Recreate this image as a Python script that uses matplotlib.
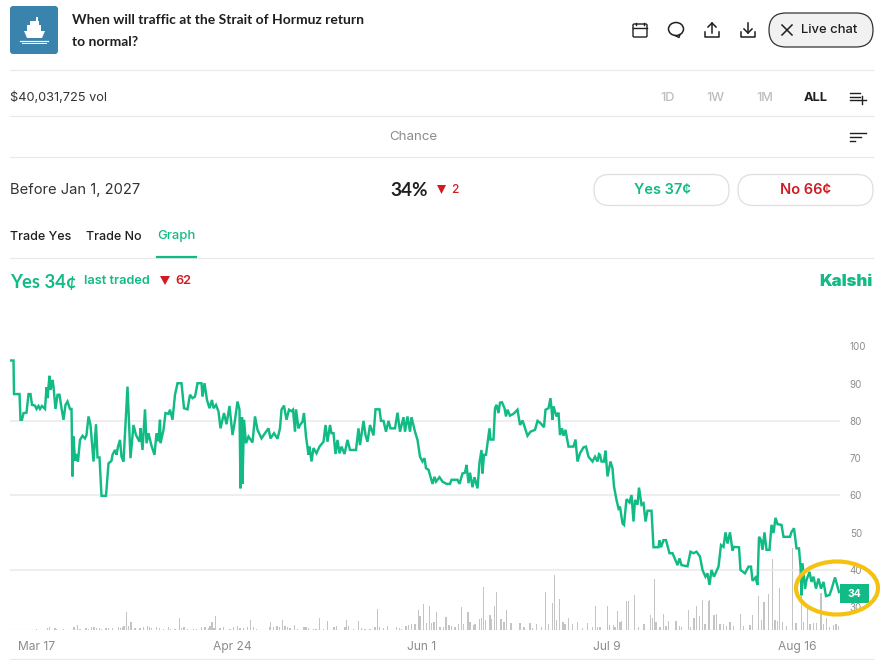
import matplotlib
matplotlib.use("Agg")
import matplotlib.pyplot as plt
from matplotlib.patches import FancyBboxPatch, Ellipse, Rectangle, Polygon

# days counted from Mar 17
price_days = [-5.4,-4.7,-4.6,-3.5,-3.3,-3.0,-2.7,-2.1,-1.7,-1.3,-1.0,-0.4,-0.1,0.3,0.6,1.0,1.6,1.9,2.1,2.5,2.7,3.1,3.3,3.7,4.1,4.5,4.9,5.3,5.7,6.1,6.6,6.9,7.1,7.3,7.6,7.9,8.2,8.6,9.1,9.6,9.9,10.3,10.7,11.3,11.8,12.1,12.5,12.9,13.8,14.3,14.9,15.1,15.6,15.9,16.2,16.6,16.9,17.3,18.1,18.7,19.3,19.8,20.5,20.7,21.1,21.6,21.9,22.3,22.9,23.5,23.9,24.3,24.6,24.7,25.3,25.7,26.3,26.6,27.1,27.6,28.1,28.9,29.4,30.1,30.6,31.1,31.6,32.1,32.9,33.1,33.5,34.0,34.5,35.0,35.3,35.8,36.3,36.7,37.4,37.9,38.5,39.1,39.5,40.1,40.5,40.7,41.0,41.1,41.4,41.8,42.3,43.1,43.6,44.1,44.9,45.7,46.3,46.7,47.4,48.1,48.6,48.9,49.4,49.9,50.4,50.9,51.2,51.6,51.8,52.3,
    52.6,53.1,53.4,53.8,54.3,54.5,54.9,55.3,55.9,56.5,57.3,57.7,58.1,58.6,58.9,59.3,59.7,60.1,60.5,60.9,61.5,62.1,62.6,63.8,64.3,64.6,65.3,65.7,66.1,66.6,67.3,67.7,68.5,68.8,69.3,69.8,70.3,70.7,71.6,72.1,72.6,73.3,73.6,74.1,74.6,74.9,75.6,76.1,76.6,77.1,77.5,77.8,78.3,79.1,79.5,79.8,80.5,81.1,81.9,82.6,82.9,84.1,84.5,85.1,85.6,85.9,86.3,86.6,87.1,87.5,88.1,88.5,88.9,89.1,89.4,89.8,90.5,90.7,91.3,91.6,91.9,92.3,92.6,93.0,93.5,93.8,94.1,94.6,95.3,96.1,96.6,97.1,97.4,98.1,98.7,99.6,100.1,100.7,101.4,101.7,102.3,102.7,103.1,103.3,103.9,104.3,104.6,105.0,105.3,105.7,106.3,107.3,107.7,108.1,108.6,109.3,109.8,110.3,111.1,111.6,112.1,112.4,
    112.6,112.9,113.4,113.7,114.1,114.7,115.1,115.4,115.9,116.3,116.6,117.1,117.4,117.9,118.5,118.9,119.3,119.6,120.1,120.4,120.9,121.3,121.7,122.1,122.9,123.3,124.3,124.5,124.8,125.3,125.8,126.5,127.1,128.1,128.5,128.9,130.1,130.7,131.3,131.9,132.6,133.1,133.7,134.1,134.5,134.9,135.4,136.3,136.8,137.3,137.7,138.1,138.6,139.1,139.4,140.4,140.7,141.6,142.3,142.8,143.1,143.7,144.1,144.4,144.8,145.1,145.5,145.9,146.5,146.9,147.3,147.7,148.1,148.9,149.3,150.6,150.9,151.4,151.9,152.4,152.7,152.9,153.1,153.6,153.9,154.5,154.9,155.3,155.8,156.3,156.8,157.3,157.8,158.5,158.9,159.6,160.4]

price_values = [96.2,96.2,87.2,87.2,80.3,80.3,82.1,82.2,87.2,87.2,84.3,84.1,83.2,84.0,83.2,84.0,83.2,89.0,86.1,92.1,88.3,91.0,89.2,83.2,87.0,87.0,83.4,80.3,84.3,85.2,83.2,83.2,65.1,75.8,69.3,71.1,69.1,74.9,76.0,75.3,76.2,81.2,78.9,69.1,79.1,70.2,70.2,59.9,59.9,68.6,69.3,70.9,72.2,70.9,73.1,74.9,70.4,69.1,89.2,70.0,78.9,76.2,74.4,78.0,72.2,83.1,74.0,76.7,73.3,70.9,76.7,74.5,80.3,74.0,77.6,82.1,81.9,83.0,80.3,87.0,90.1,90.1,83.4,83.1,87.0,86.1,86.5,90.1,90.1,86.5,90.1,85.6,83.4,85.6,83.4,84.3,82.5,78.0,82.1,79.1,84.0,76.2,79.3,85.2,83.0,61.9,81.0,63.1,80.3,74.0,75.8,74.2,81.2,77.6,75.3,76.9,78.0,75.3,76.7,75.2,78.0,83.0,84.1,80.3,83.0,82.6,83.0,77.1,83.1,78.0,
    78.9,79.8,82.1,75.8,70.9,73.1,69.1,72.7,71.3,73.1,74.4,78.9,74.4,78.9,76.7,76.7,71.1,74.9,71.3,73.1,71.1,74.9,72.2,72.2,78.0,73.5,80.0,76.2,74.4,78.9,76.1,83.1,83.1,80.0,80.0,77.1,80.0,78.0,78.0,82.2,77.1,81.0,77.1,81.2,77.1,81.0,77.1,74.9,70.4,69.1,70.0,67.3,66.9,63.1,65.0,63.7,64.9,63.7,63.1,63.1,64.2,64.2,63.1,65.9,66.1,68.2,63.3,66.1,62.2,64.9,61.9,68.8,72.2,65.9,70.9,70.9,78.0,75.0,75.0,83.4,84.3,82.1,84.9,85.0,83.4,81.2,83.0,81.4,81.9,83.0,78.9,80.1,78.9,76.0,77.1,77.6,80.0,79.4,78.3,83.0,83.4,86.1,80.3,83.9,81.2,82.2,76.2,78.0,76.0,77.6,73.1,73.1,75.0,69.1,71.3,72.9,73.1,70.4,69.1,70.4,69.1,71.1,
    70.9,69.1,69.1,72.0,65.1,69.1,67.3,62.4,58.8,56.5,57.0,52.5,52.1,59.0,58.1,60.1,53.0,58.8,57.5,62.1,57.5,57.9,53.0,55.9,55.9,46.1,46.1,48.0,46.1,48.0,48.0,44.5,44.5,41.3,43.1,41.3,41.0,44.9,44.5,44.9,43.6,40.0,38.2,39.1,36.0,40.0,38.2,40.9,46.7,46.2,50.1,47.1,50.1,45.2,46.2,46.1,40.0,39.1,40.9,40.9,37.1,38.0,36.0,48.9,48.0,45.4,50.1,45.4,45.4,52.1,49.9,54.0,52.3,52.1,48.9,48.9,50.2,51.2,45.8,45.8,40.9,33.2,41.8,35.0,37.3,39.5,36.8,38.2,35.0,37.7,35.0,36.8,33.0,33.3,34.8,38.0,34.1]

volume_days = [-4.7,-3.4,-0.1,0.3,2.1,2.5,3.6,3.8,5.3,7.4,8.1,8.6,9.8,10.3,10.9,11.4,11.9,12.5,12.9,13.8,14.3,15.1,16.3,16.7,17.1,17.4,17.9,18.3,18.8,19.6,20.6,21.3,22.1,22.5,22.9,23.9,24.5,25.3,26.3,26.7,27.6,28.5,28.9,29.4,30.1,31.3,31.9,32.9,33.6,34.3,34.6,35.0,35.4,35.7,36.6,37.3,38.6,39.3,40.1,40.6,41.3,42.1,42.7,43.3,43.9,45.3,46.5,46.7,47.3,48.0,48.5,49.1,49.6,50.1,50.6,51.5,52.1,
    53.4,53.8,54.3,55.3,55.8,56.5,57.3,58.1,59.4,59.9,61.6,61.9,62.3,63.3,64.3,64.9,65.6,66.6,67.6,68.1,68.5,69.3,70.1,71.9,72.5,72.9,73.8,74.3,74.9,75.6,76.3,76.6,77.3,77.9,78.5,78.9,79.4,79.9,80.6,81.3,81.8,82.4,82.9,83.6,84.3,84.9,85.3,86.2,86.6,87.3,87.6,88.5,88.9,89.3,89.7,90.6,90.9,91.5,91.9,92.8,93.4,93.9,94.8,96.6,97.4,98.6,99.1,99.9,100.9,101.7,102.3,103.1,103.5,103.9,104.5,105.2,105.6,106.3,107.1,108.1,109.1,110.1,111.1,111.7,112.1,
    112.6,114.1,114.5,115.3,115.6,116.1,116.6,116.9,117.9,118.3,119.5,120.3,121.4,122.7,123.1,123.5,123.8,124.6,125.3,125.8,126.3,127.8,128.5,128.9,130.3,130.7,131.4,131.9,132.5,133.1,133.6,134.3,134.5,135.4,135.9,136.6,137.3,137.9,138.6,139.3,140.7,141.3,142.6,143.1,144.3,144.9,145.4,146.3,147.1,147.6,148.1,148.5,149.1,149.9,151.1,151.8,152.9,153.3,154.1,154.6,155.3,155.9,156.8,157.3,157.9,158.5,159.3,159.8,160.3]

volume_values = [0.3,0.3,1,0.5,2,3,2.5,1,0.7,3,5,1,2,1.5,3.5,3,2.5,2,1,2,2.5,2,3,2.5,3,4,18,4,8,2,2.5,3,4,3,2,3.5,2,1,3,1.5,1.5,12,2,3,1,1,1,3,3,2,4,8,2.5,14,2,3,1.5,3,4,2,2.5,3,10,3,1.5,0.5,3,8,3.5,4,3,10,4,3,2,5,1,
    3,3,2,1,1.5,12,1.5,9,3,4,3,10,4,1.5,9,2,1.5,1,3,21,3,2.5,4,3,2,1.5,4,5,6,6,20,14,26,7,24,7,8,18,3,3,13,5,4,3,6,23,6,18,8,5,6,11,12,43,10,15,11,24,38,11,8,20,7,7,3,7,2,6,3,38,6,27,55,10,31,8,6,12,6,8,2,7,3,24,3,
    3,24,5,5,3,19,8,9,29,29,35,3,6,15,12,51,8,3,16,4,9,9,4,3,20,3,12,24,14,30,6,29,30,15,16,6,6,4,8,4,16,4,5,15,34,10,28,36,71,10,9,42,8,4,82,7,38,8,24,6,7,7,37,6,12,3,5,6,4]

tick_days = [0, 39, 77, 114, 152]
tick_labels = ["Mar 17", "Apr 24", "Jun 1", "Jul 9", "Aug 16"]
price_ticks = [100, 90, 80, 70, 60, 50, 40, 30]
grid_prices = [80, 60, 40]
last_price = 34

GREEN = "#12bb85"
RED = "#cf1b22"
DARK = "#1f1f1f"
GREY = "#8c8c8c"
LINE = "#e9e9e9"
W, H = 889, 660

plt.rcParams["font.family"] = ["Inter", "DejaVu Sans"]
fig = plt.figure(figsize=(W / 100, H / 100), dpi=100)
fig.patch.set_facecolor("white")


def rect(x0, y0, x1, y1):
    return [x0 / W, 1 - y1 / H, (x1 - x0) / W, (y1 - y0) / H]


# chart, 3.725 px per cent, 5 px per day
ax = fig.add_axes(rect(10, 340, 840, 630))
vol = ax.twinx()
ax.set_xlim(-5.4, 160.6)
ax.set_ylim(23.9, 101.7)
ax.patch.set_alpha(0)
for s in ax.spines.values():
    s.set_visible(False)
ax.hlines(grid_prices, -5.4, 160.6, color=LINE, lw=1.1, zorder=1)
ax.plot(price_days, price_values, color=GREEN, lw=1.75, zorder=4, solid_joinstyle="miter")
ax.yaxis.tick_right()
ax.set_yticks(price_ticks)
ax.set_yticklabels([str(p) for p in price_ticks], color=GREY, fontsize=7)
ax.set_xticks(tick_days)
ax.set_xticklabels(tick_labels, color=GREY, fontsize=8.7)
ax.tick_params(length=0)
ax.tick_params(axis="y", pad=7)
ax.tick_params(axis="x", pad=8)

vol.set_ylim(0, 290)
vol.set_yticks([])
vol.patch.set_alpha(0)
for s in vol.spines.values():
    s.set_visible(False)
vol.bar(volume_days, volume_values, width=0.24, color="#c4c4c4", zorder=2)
vol.axhline(0, color="#cfcfcf", lw=0.8)
ax.set_zorder(vol.get_zorder() + 1)

# page furniture, in pixel coordinates
ui = fig.add_axes([0, 0, 1, 1], zorder=10)
ui.set_xlim(0, W)
ui.set_ylim(H, 0)
ui.axis("off")

for y, x1 in [(70, 873), (116, 873), (157, 873), (258, 873), (659, 873)]:
    ui.plot([10, x1], [y, y], color=LINE, lw=0.9)
ui.plot([157, 196], [257, 257], color=GREEN, lw=1.6)


def txt(x, y, s, size, color=DARK, weight="normal", ha="left", family=None):
    kw = {"family": family} if family else {}
    ui.text(x, y + 1, s, fontsize=size, color=color, fontweight=weight, ha=ha, va="center", **kw)


NARROW = ["Lato", "DejaVu Sans"]

# ship icon
ui.add_patch(FancyBboxPatch((10, 6), 48, 48, boxstyle="round,pad=0,rounding_size=3", fc="#3a83ad", ec="none"))
ui.add_patch(Polygon([[24, 31], [45, 31], [42, 38], [27, 38]], fc="white", ec="none"))
ui.add_patch(Rectangle((27, 25), 14, 6, fc="white", ec="none"))
ui.add_patch(Rectangle((30, 21), 9, 4, fc="white", ec="none"))
ui.add_patch(Rectangle((36, 17), 2, 4, fc="white", ec="none"))
ui.plot([20, 48], [40.5, 40.5], color="white", lw=0.9)
ui.plot([22, 46], [42.5, 42.5], color="white", lw=0.7)

txt(72, 19, "When will traffic at the Strait of Hormuz return", 10, weight="bold", family=NARROW)
txt(72, 41, "to normal?", 10, weight="bold", family=NARROW)

# header icons
ui.add_patch(FancyBboxPatch((633, 24), 14, 13, boxstyle="round,pad=0,rounding_size=1.2", fc="none", ec=DARK, lw=1))
ui.plot([633, 647], [27.5, 27.5], color=DARK, lw=1)
ui.plot([636, 636], [22.5, 25], color=DARK, lw=1)
ui.plot([644, 644], [22.5, 25], color=DARK, lw=1)
ui.add_patch(Ellipse((676, 29), 15, 13, fc="none", ec=DARK, lw=1.1))
ui.plot([675, 679, 680], [35.5, 37.5, 34.5], color=DARK, lw=1)
ui.plot([705, 705, 719, 719], [32, 36.5, 36.5, 32], color=DARK, lw=1.1)
ui.plot([712, 712], [33, 23], color=DARK, lw=1.1)
ui.plot([708, 712, 716], [27, 23, 27], color=DARK, lw=1.1)
ui.plot([741, 741, 755, 755], [32, 36.5, 36.5, 32], color=DARK, lw=1.1)
ui.plot([748, 748], [23, 33], color=DARK, lw=1.1)
ui.plot([744, 748, 752], [29, 33, 29], color=DARK, lw=1.1)

ui.add_patch(FancyBboxPatch((769, 13), 104, 34, boxstyle="round,pad=0,rounding_size=17", fc="#f1f1f1", ec="#333333", lw=0.9))
ui.plot([782, 792], [25, 35], color=DARK, lw=1.1)
ui.plot([792, 782], [25, 35], color=DARK, lw=1.1)
txt(801, 29, "Live chat", 9.4, weight="medium")

# volume row
txt(10, 97, "$40,031,725 vol", 9.2, color="#333333")
txt(660, 97, "1D", 9.2, color="#bdbdbd", weight="medium")
txt(706, 97, "1W", 9.2, color="#bdbdbd", weight="medium")
txt(756, 97, "1M", 9.2, color="#bdbdbd", weight="medium")
txt(804, 97, "ALL", 9.2, weight="bold")
for y, x1 in [(93, 860), (96.5, 860), (100, 857)]:
    ui.plot([850, x1], [y, y], color=DARK, lw=1)
ui.plot([862, 862], [96, 104], color=DARK, lw=1)
ui.plot([858, 866], [100, 100], color=DARK, lw=1)

txt(413, 136.5, "Chance", 9.6, color=GREY, ha="center")
for y, x1 in [(132.5, 866), (136.5, 861), (141, 855)]:
    ui.plot([850, x1], [y, y], color=DARK, lw=1)

# market row
txt(10, 189, "Before Jan 1, 2027", 10.6, color="#333333")
txt(390, 189.5, "34%", 13.6, weight="bold", family=NARROW)
ui.add_patch(Polygon([[437, 185], [446, 185], [441.5, 194]], fc=RED, ec="none"))
txt(451, 189, "2", 8.6, color=RED, weight="medium")
ui.add_patch(FancyBboxPatch((594, 174.5), 135, 31, boxstyle="round,pad=0,rounding_size=15.5", fc="white", ec="#dfdfdf", lw=0.9))
ui.add_patch(FancyBboxPatch((738, 174.5), 135, 31, boxstyle="round,pad=0,rounding_size=15.5", fc="white", ec="#dfdfdf", lw=0.9))
txt(662, 189, "Yes 37¢", 10.5, color=GREEN, weight="semibold", ha="center")
txt(806, 189, "No 66¢", 10.5, color=RED, weight="semibold", ha="center")

# tabs
txt(10, 235.5, "Trade Yes", 9.0, weight="medium")
txt(86, 235.5, "Trade No", 9.0, weight="medium")
txt(157, 235.5, "Graph", 9.4, color=GREEN, weight="medium")

# price header
txt(10, 281, "Yes 34¢", 13.2, color=GREEN, weight="bold", family=NARROW)
txt(84, 279.5, "last traded", 9.2, color=GREEN, weight="semibold")
ui.add_patch(Polygon([[160, 276], [170, 276], [165, 285]], fc=RED, ec="none"))
txt(175, 279.5, "62", 9.2, color=RED, weight="semibold")
txt(873, 280, "Kalshi", 12, color=GREEN, weight="black", ha="right")

# last price tag and circled annotation
ui.add_patch(Rectangle((840, 584), 29, 19, fc=GREEN, ec="none"))
txt(854.5, 593, str(last_price), 7.5, color="white", weight="bold", ha="center")
ui.add_patch(Ellipse((837, 588), 82, 53, fc="none", ec="#f5c211", lw=3))

fig.savefig("out.png", dpi=100)
